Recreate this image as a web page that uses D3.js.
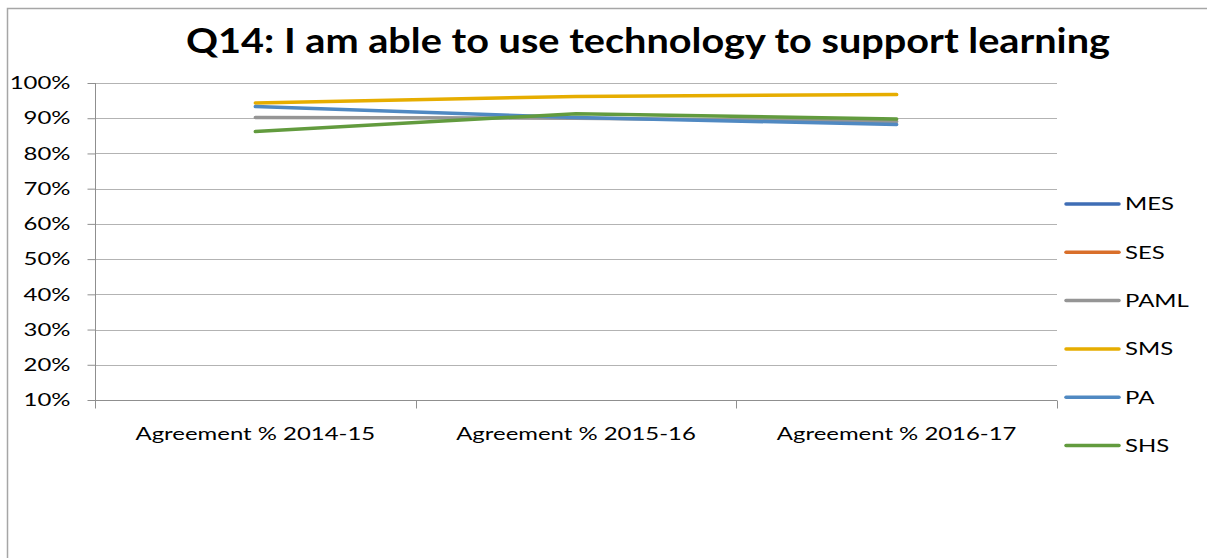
<!DOCTYPE html>
<html>
<head>
<meta charset="utf-8">
<script src="https://cdn.jsdelivr.net/npm/d3@7"></script>
<style>
  body { margin: 0; background: #fff; }
  svg { display: block; font-family: Lato, "Open Sans", sans-serif; }
  .tick-label { font-size: 18px; fill: #000; }
</style>
</head>
<body>
<svg id="chart" width="1207" height="558"></svg>
<script>
/* ── data ─────────────────────────────────────────────────────────────── */
const categories = ["Agreement % 2014-15", "Agreement % 2015-16", "Agreement % 2016-17"];
const seriesNames = ["MES", "SES", "PAML", "SMS", "PA", "SHS"];
const seriesColors = ["#3f6db5", "#d96f2a", "#959595", "#e6ad00", "#5089c2", "#629b3e"];
// MES and SES have no visible values in the reference
const mes = [null, null, null];
const ses = [null, null, null];
const paml = [0.902, 0.900, 0.891];
const sms = [0.943, 0.962, 0.967];
const pa = [0.933, 0.902, 0.882];
const shs = [0.862, 0.913, 0.898];
const yTicks = [0.1, 0.2, 0.3, 0.4, 0.5, 0.6, 0.7, 0.8, 0.9, 1.0];

const seriesValues = [mes, ses, paml, sms, pa, shs];

/* ── layout ───────────────────────────────────────────────────────────── */
const svg = d3.select("#chart");
const m = { left: 95, right: 150, top: 83, bottom: 158 };
const W = 1207 - m.left - m.right;
const H = 558 - m.top - m.bottom;
const SX = 1.33; // reference text is horizontally wide

// stretch text horizontally around its anchor point
function stretch(sel, sx) {
  sel.each(function () {
    const t = d3.select(this);
    const x = +t.attr("x") || 0;
    t.attr("x", x / sx).attr("transform", `scale(${sx},1)`);
  });
}

// chart frame (extends past the visible area on right/bottom)
svg.append("rect")
  .attr("x", 7.5).attr("y", 8.5)
  .attr("width", 1220).attr("height", 600)
  .attr("fill", "none").attr("stroke", "#a6a6a6").attr("stroke-width", 1.5);

svg.append("text")
  .attr("x", 648).attr("y", 53)
  .attr("text-anchor", "middle")
  .attr("font-size", "34.5px").attr("font-weight", "bold")
  .text("Q14: I am able to use technology to support learning")
  .call(stretch, 1.15);

const g = svg.append("g").attr("transform", `translate(${m.left},${m.top})`);

const xS = d3.scaleBand().domain(categories).range([0, W]);
const yS = d3.scaleLinear().domain([0.1, 1.0]).range([H, 0]);

// gridlines
g.selectAll("line.grid").data(yTicks.slice(1)).enter()
  .append("line").attr("class", "grid")
  .attr("x1", 0).attr("x2", W)
  .attr("y1", (d) => Math.round(yS(d)) + 0.5).attr("y2", (d) => Math.round(yS(d)) + 0.5)
  .attr("stroke", "#b3b3b3").attr("stroke-width", 1);

// y axis
const yAxis = g.append("g").attr("transform", "translate(0.5,0)")
  .call(d3.axisLeft(yS).tickValues(yTicks).tickSize(8).tickPadding(17)
    .tickFormat(d3.format(".0%")))
  .attr("font-family", null).attr("font-size", null);
yAxis.selectAll("line, path").attr("stroke", "#8f8f8f");
yAxis.select(".domain").attr("d", `M0,0V${H}`);
yAxis.selectAll("text").attr("class", "tick-label").call(stretch, SX);

// x axis
const xAxis = g.append("g").attr("transform", `translate(0,${Math.round(H) + 0.5})`)
  .call(d3.axisBottom(xS).tickSize(0).tickPadding(27))
  .attr("font-family", null).attr("font-size", null);
xAxis.select(".domain").attr("stroke", "#8f8f8f").attr("d", `M0,0H${W}`);
xAxis.selectAll("text").attr("class", "tick-label").call(stretch, SX);
[0, 1, 2, 3].forEach((i) => {
  const x = Math.round(i * xS.bandwidth()) + 0.5;
  xAxis.append("line").attr("x1", x).attr("x2", x).attr("y1", 0).attr("y2", 8)
    .attr("stroke", "#8f8f8f");
});

// lines
const line = d3.line()
  .defined((d) => d != null)
  .x((d, i) => xS(categories[i]) + xS.bandwidth() / 2)
  .y((d) => yS(d));

seriesNames.forEach((name, i) => {
  g.append("path")
    .datum(seriesValues[i])
    .attr("d", line)
    .attr("fill", "none")
    .attr("stroke", seriesColors[i])
    .attr("stroke-width", 3.5)
    .attr("stroke-linejoin", "round")
    .attr("stroke-linecap", "round");
});

// legend
const legend = svg.append("g").attr("transform", "translate(1066,204)");
seriesNames.forEach((name, i) => {
  const row = legend.append("g").attr("transform", `translate(0,${i * 48.3})`);
  row.append("line").attr("x1", 0).attr("x2", 53).attr("y1", 0).attr("y2", 0)
    .attr("stroke", seriesColors[i]).attr("stroke-width", 3.5).attr("stroke-linecap", "round");
  row.append("text").attr("x", 59).attr("y", 0).attr("dy", "0.35em")
    .attr("class", "tick-label").text(name)
    .call(stretch, SX);
});
</script>
</body>
</html>
